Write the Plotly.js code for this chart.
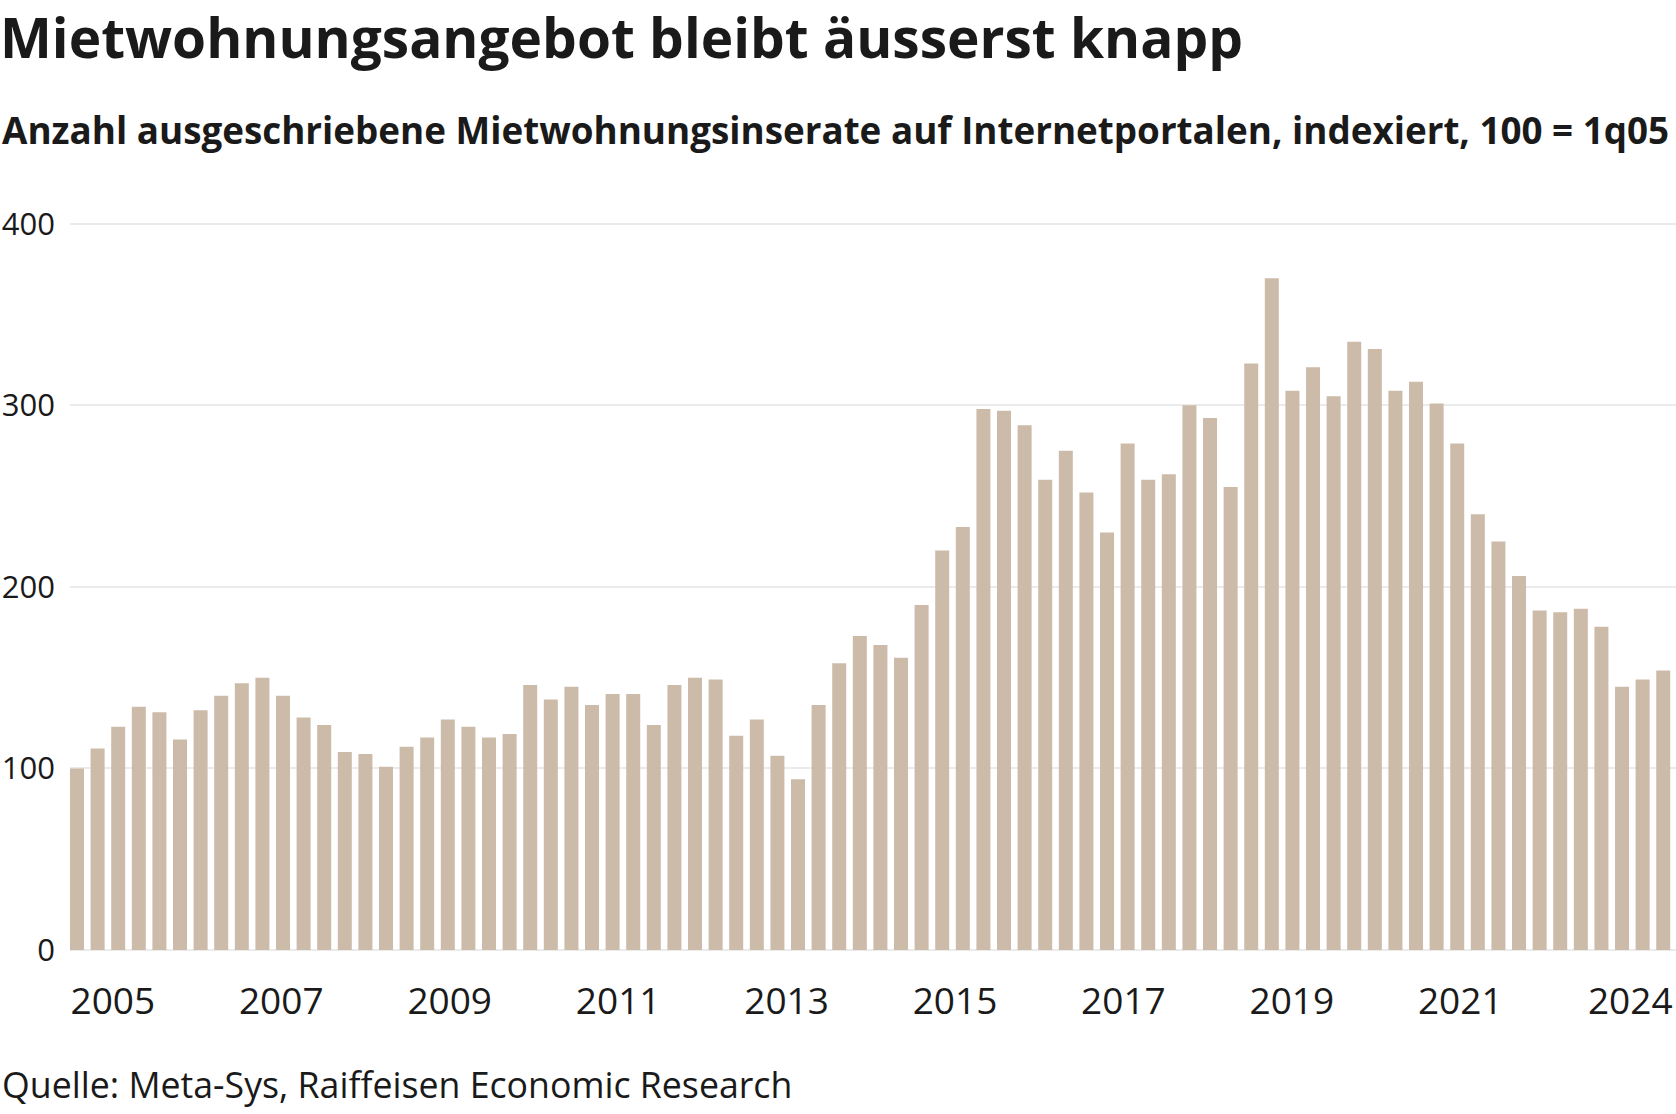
<!DOCTYPE html>
<html>
<head>
<meta charset="utf-8">
<script src="https://cdn.plot.ly/plotly-3.0.1.min.js"></script>
<style>
  html, body { margin: 0; padding: 0; background: #ffffff; }
  #chart { width: 1676px; height: 1114px; }
</style>
</head>
<body>
<div id="chart"></div>
<script>
// ---- data ----
const quarters = [
  "1q05","2q05","3q05","4q05","1q06","2q06","3q06","4q06",
  "1q07","2q07","3q07","4q07","1q08","2q08","3q08","4q08",
  "1q09","2q09","3q09","4q09","1q10","2q10","3q10","4q10",
  "1q11","2q11","3q11","4q11","1q12","2q12","3q12","4q12",
  "1q13","2q13","3q13","4q13","1q14","2q14","3q14","4q14",
  "1q15","2q15","3q15","4q15","1q16","2q16","3q16","4q16",
  "1q17","2q17","3q17","4q17","1q18","2q18","3q18","4q18",
  "1q19","2q19","3q19","4q19","1q20","2q20","3q20","4q20",
  "1q21","2q21","3q21","4q21","1q22","2q22","3q22","4q22",
  "1q23","2q23","3q23","4q23","1q24","2q24"
];
const indexValues = [
  100,111,123,134,131,116,132,140,147,150,
  140,128,124,109,108,101,112,117,127,123,
  117,119,146,138,145,135,141,141,124,146,
  150,149,118,127,107,94,135,158,173,168,
  161,190,220,233,298,297,289,259,275,252,
  230,279,259,262,300,293,255,323,370,308,
  321,305,335,331,308,313,301,279,240,225,
  206,187,186,188,178,145,149,154
];
const tickYears = ["2005","2007","2009","2011","2013","2015","2017","2019","2021","2024"];
const yTicks = [0,100,200,300,400];

const titleText = "Mietwohnungsangebot bleibt äusserst knapp";
const subtitleText = "Anzahl ausgeschriebene Mietwohnungsinserate auf Internetportalen, indexiert, 100 = 1q05";
const sourceText = "Quelle: Meta-Sys, Raiffeisen Economic Research";

// ---- layout helpers ----
const W = 1676, H = 1114;
const M = {l: 70, r: 0, t: 222, b: 164};
const plotW = W - M.l - M.r, plotH = H - M.t - M.b;
const px2x = p => (p - M.l) / plotW;
const px2y = p => (H - M.b - p) / plotH;
// year labels sit on a continuous time scale slightly wider than the bar band
const tickPos = tickYears.map(y => Math.min(1.74 + 4.088 * (+y - 2005), 75.4));

const FONT = "Open Sans, Noto Sans, sans-serif";
const INK = "#1a1a1a";

const trace = {
  type: "bar",
  x: quarters,
  y: indexValues,
  marker: {color: "#cdbbaa", line: {width: 0}},
  hoverinfo: "x+y"
};

const layout = {
  width: W, height: H,
  margin: M,
  paper_bgcolor: "#ffffff",
  plot_bgcolor: "#ffffff",
  showlegend: false,
  bargap: 0.32,
  font: {family: FONT, color: INK},
  title: {
    text: titleText,
    font: {family: FONT, size: 55, weight: 700, color: INK},
    xref: "container", x: 0, xanchor: "left",
    yref: "container", y: 1 - 19 / H, yanchor: "top",
    pad: {l: 0, t: 0}
  },
  xaxis: {
    type: "category",
    range: [-0.34, 77.62],
    showgrid: false,
    zeroline: false,
    showline: false,
    ticks: "",
    tickmode: "array",
    tickvals: tickPos,
    ticktext: tickYears,
    tickangle: 0,
    tickfont: {family: FONT, size: 37, color: INK},
    ticklabelstandoff: 26,
    fixedrange: true
  },
  yaxis: {
    range: [0, 401],
    tickmode: "array",
    tickvals: yTicks,
    ticktext: yTicks.map(String),
    showgrid: true,
    gridcolor: "#ebebeb",
    gridwidth: 2,
    zeroline: true,
    zerolinecolor: "#ebebeb",
    zerolinewidth: 2,
    showline: false,
    ticks: "",
    tickfont: {family: FONT, size: 31, color: INK},
    ticklabelstandoff: 14,
    fixedrange: true
  },
  annotations: [
    {
      text: subtitleText,
      xref: "paper", yref: "paper",
      x: px2x(0), y: px2y(103),
      xanchor: "left", yanchor: "top",
      showarrow: false,
      font: {family: FONT, size: 36.8, weight: 700, color: INK}
    },
    {
      text: sourceText,
      xref: "paper", yref: "paper",
      x: px2x(0), y: px2y(1058),
      xanchor: "left", yanchor: "top",
      showarrow: false,
      font: {family: FONT, size: 35.7, color: INK}
    }
  ]
};

Plotly.newPlot("chart", [trace], layout, {displayModeBar: false, staticPlot: true});
</script>
</body>
</html>
